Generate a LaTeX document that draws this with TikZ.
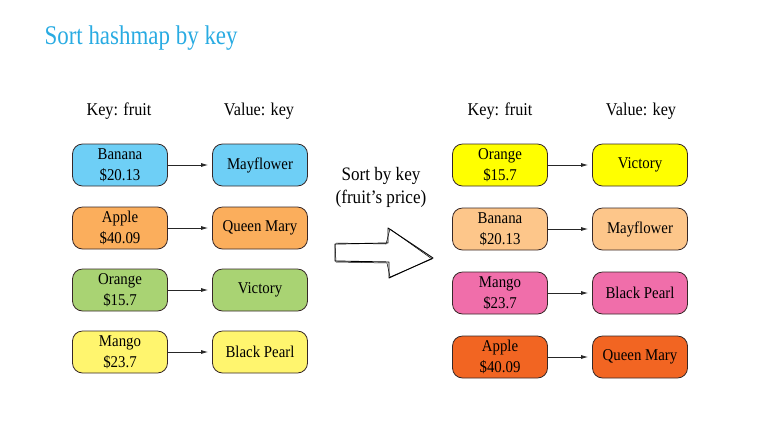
\documentclass[tikz,border=0pt]{standalone}
\usepackage{fontspec}
\setmainfont{Liberation Serif}[FakeStretch=0.9]
\newfontfamily\titlefont{Liberation Serif}[FakeStretch=0.85]
\usetikzlibrary{arrows.meta}
\definecolor{titlecol}{RGB}{41,171,226}
\definecolor{cblue}{RGB}{110,207,246}
\definecolor{corangeL}{RGB}{251,174,92}
\definecolor{cgreen}{RGB}{169,211,115}
\definecolor{cyellowL}{RGB}{255,245,110}
\definecolor{cyellow}{RGB}{255,255,0}
\definecolor{cpeach}{RGB}{253,198,138}
\definecolor{cpink}{RGB}{240,110,170}
\definecolor{corange}{RGB}{242,101,34}
\definecolor{edge}{RGB}{55,40,40}
\begin{document}
\begin{tikzpicture}[x=1pt,y=-1pt,
  box/.style={draw=edge,line width=0.8pt,rounded corners=10pt,minimum width=95pt,minimum height=42pt,inner sep=1pt,align=center,font=\fontsize{16.5}{21}\selectfont},
  hdr/.style={font=\fontsize{18}{20}\selectfont},
  conn/.style={draw=black!85,line width=0.8pt,-{Latex[length=7pt,width=4pt]}}]
\useasboundingbox (0,0) rectangle (768,432);
\node[anchor=west,text=titlecol,font=\titlefont\fontsize{27}{30}\selectfont] (title) at (41,38) {Sort hashmap by key};
% headers
\node[hdr] (hk1) at (119,111) {Key: fruit};
\node[hdr] (hv1) at (259,111) {Value: key};
\node[hdr] (hk2) at (500,111) {Key: fruit};
\node[hdr] (hv2) at (641,111) {Value: key};
% left
\node[box,fill=cblue] (k1) at (120,165) {Banana\\\$20.13};
\node[box,fill=cblue] (v1) at (260,165) {Mayflower};
\node[box,fill=corangeL] (k2) at (120,228) {Apple\\\$40.09};
\node[box,fill=corangeL] (v2) at (260,228) {Queen Mary};
\node[box,fill=cgreen] (k3) at (120,290) {Orange\\\$15.7};
\node[box,fill=cgreen] (v3) at (260,290) {Victory};
\node[box,fill=cyellowL] (k4) at (120,352) {Mango\\\$23.7};
\node[box,fill=cyellowL] (v4) at (260,352) {Black Pearl};
% right
\node[box,fill=cyellow] (r1) at (500,165) {Orange\\\$15.7};
\node[box,fill=cyellow] (w1) at (640,165) {Victory};
\node[box,fill=cpeach] (r2) at (500,229) {Banana\\\$20.13};
\node[box,fill=cpeach] (w2) at (640,229) {Mayflower};
\node[box,fill=cpink] (r3) at (500,293) {Mango\\\$23.7};
\node[box,fill=cpink] (w3) at (640,293) {Black Pearl};
\node[box,fill=corange] (r4) at (500,357) {Apple\\\$40.09};
\node[box,fill=corange] (w4) at (640,357) {Queen Mary};
\foreach \a/\b in {k1/v1,k2/v2,k3/v3,k4/v4,r1/w1,r2/w2,r3/w3,r4/w4}
  \draw[conn] (\a.east) -- ([xshift=-4pt]\b.west);
% middle
\node[align=center,font=\fontsize{19}{23}\selectfont] (sortlbl) at (381,187) {Sort by key\\(fruit’s price)};
\draw[line width=0.9pt,line join=round] (335,244) -- (388,243) -- (388,228) -- (433,258) -- (389,278) -- (389,262) -- (335,261) -- cycle;
\draw[line width=0.5pt,line join=round] (336,243) -- (386,244) -- (390,229) -- (432,259) -- (390,277) -- (387,263) -- (336,262) -- (335,244);
\end{tikzpicture}
\end{document}
